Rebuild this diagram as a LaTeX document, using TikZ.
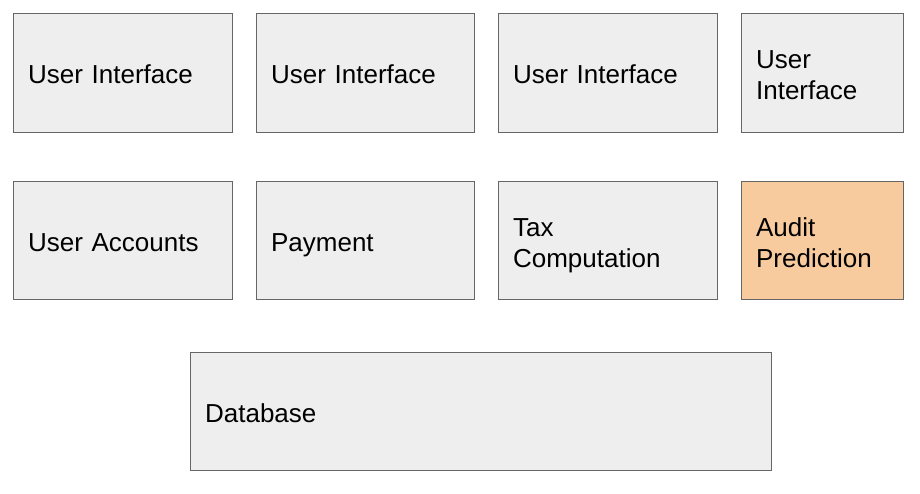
\documentclass[tikz,border=0pt]{standalone}
\usepackage{fontspec}
\setmainfont{Liberation Sans}
\definecolor{boxfill}{HTML}{EEEEEE}
\definecolor{boxline}{HTML}{666666}
\definecolor{orangefill}{HTML}{F8CB9E}
\newcommand{\onestrut}{\rule[-7pt]{0pt}{35pt}}
\newcommand{\topstrutx}{\rule{0pt}{33pt}}
\newcommand{\botstrutx}{\rule[-11pt]{0pt}{11pt}}
\begin{document}
\begin{tikzpicture}[x=1pt,y=-1pt,
  box/.style={draw=boxline, line width=1.2pt, fill=boxfill, anchor=north west,
    inner xsep=14.5pt, inner ysep=0pt, align=left,
    font=\fontsize{26}{31}\selectfont}]
\useasboundingbox (0,0) rectangle (920,493);
\node[box, text width=190, minimum height=119] (ui1) at (13,13) {\onestrut User Interface};
\node[box, text width=189, minimum height=119] (ui2) at (256,13) {\onestrut User Interface};
\node[box, text width=190, minimum height=119] (ui3) at (498,13) {\onestrut User Interface};
\node[box, text width=133, minimum height=119] (ui4) at (741,13) {\topstrutx User\\Interface\botstrutx};
\node[box, text width=190, minimum height=118] (acc) at (13,181) {\onestrut User Accounts};
\node[box, text width=189, minimum height=118] (pay) at (256,181) {\onestrut Payment};
\node[box, text width=190, minimum height=118] (tax) at (498,181) {\topstrutx Tax\\Computation\botstrutx};
\node[box, fill=orangefill, text width=133, minimum height=118] (aud) at (741,181) {\topstrutx Audit\\Prediction\botstrutx};
\node[box, text width=552, minimum height=118] (db) at (190,352) {\onestrut Database};
\end{tikzpicture}
\end{document}
